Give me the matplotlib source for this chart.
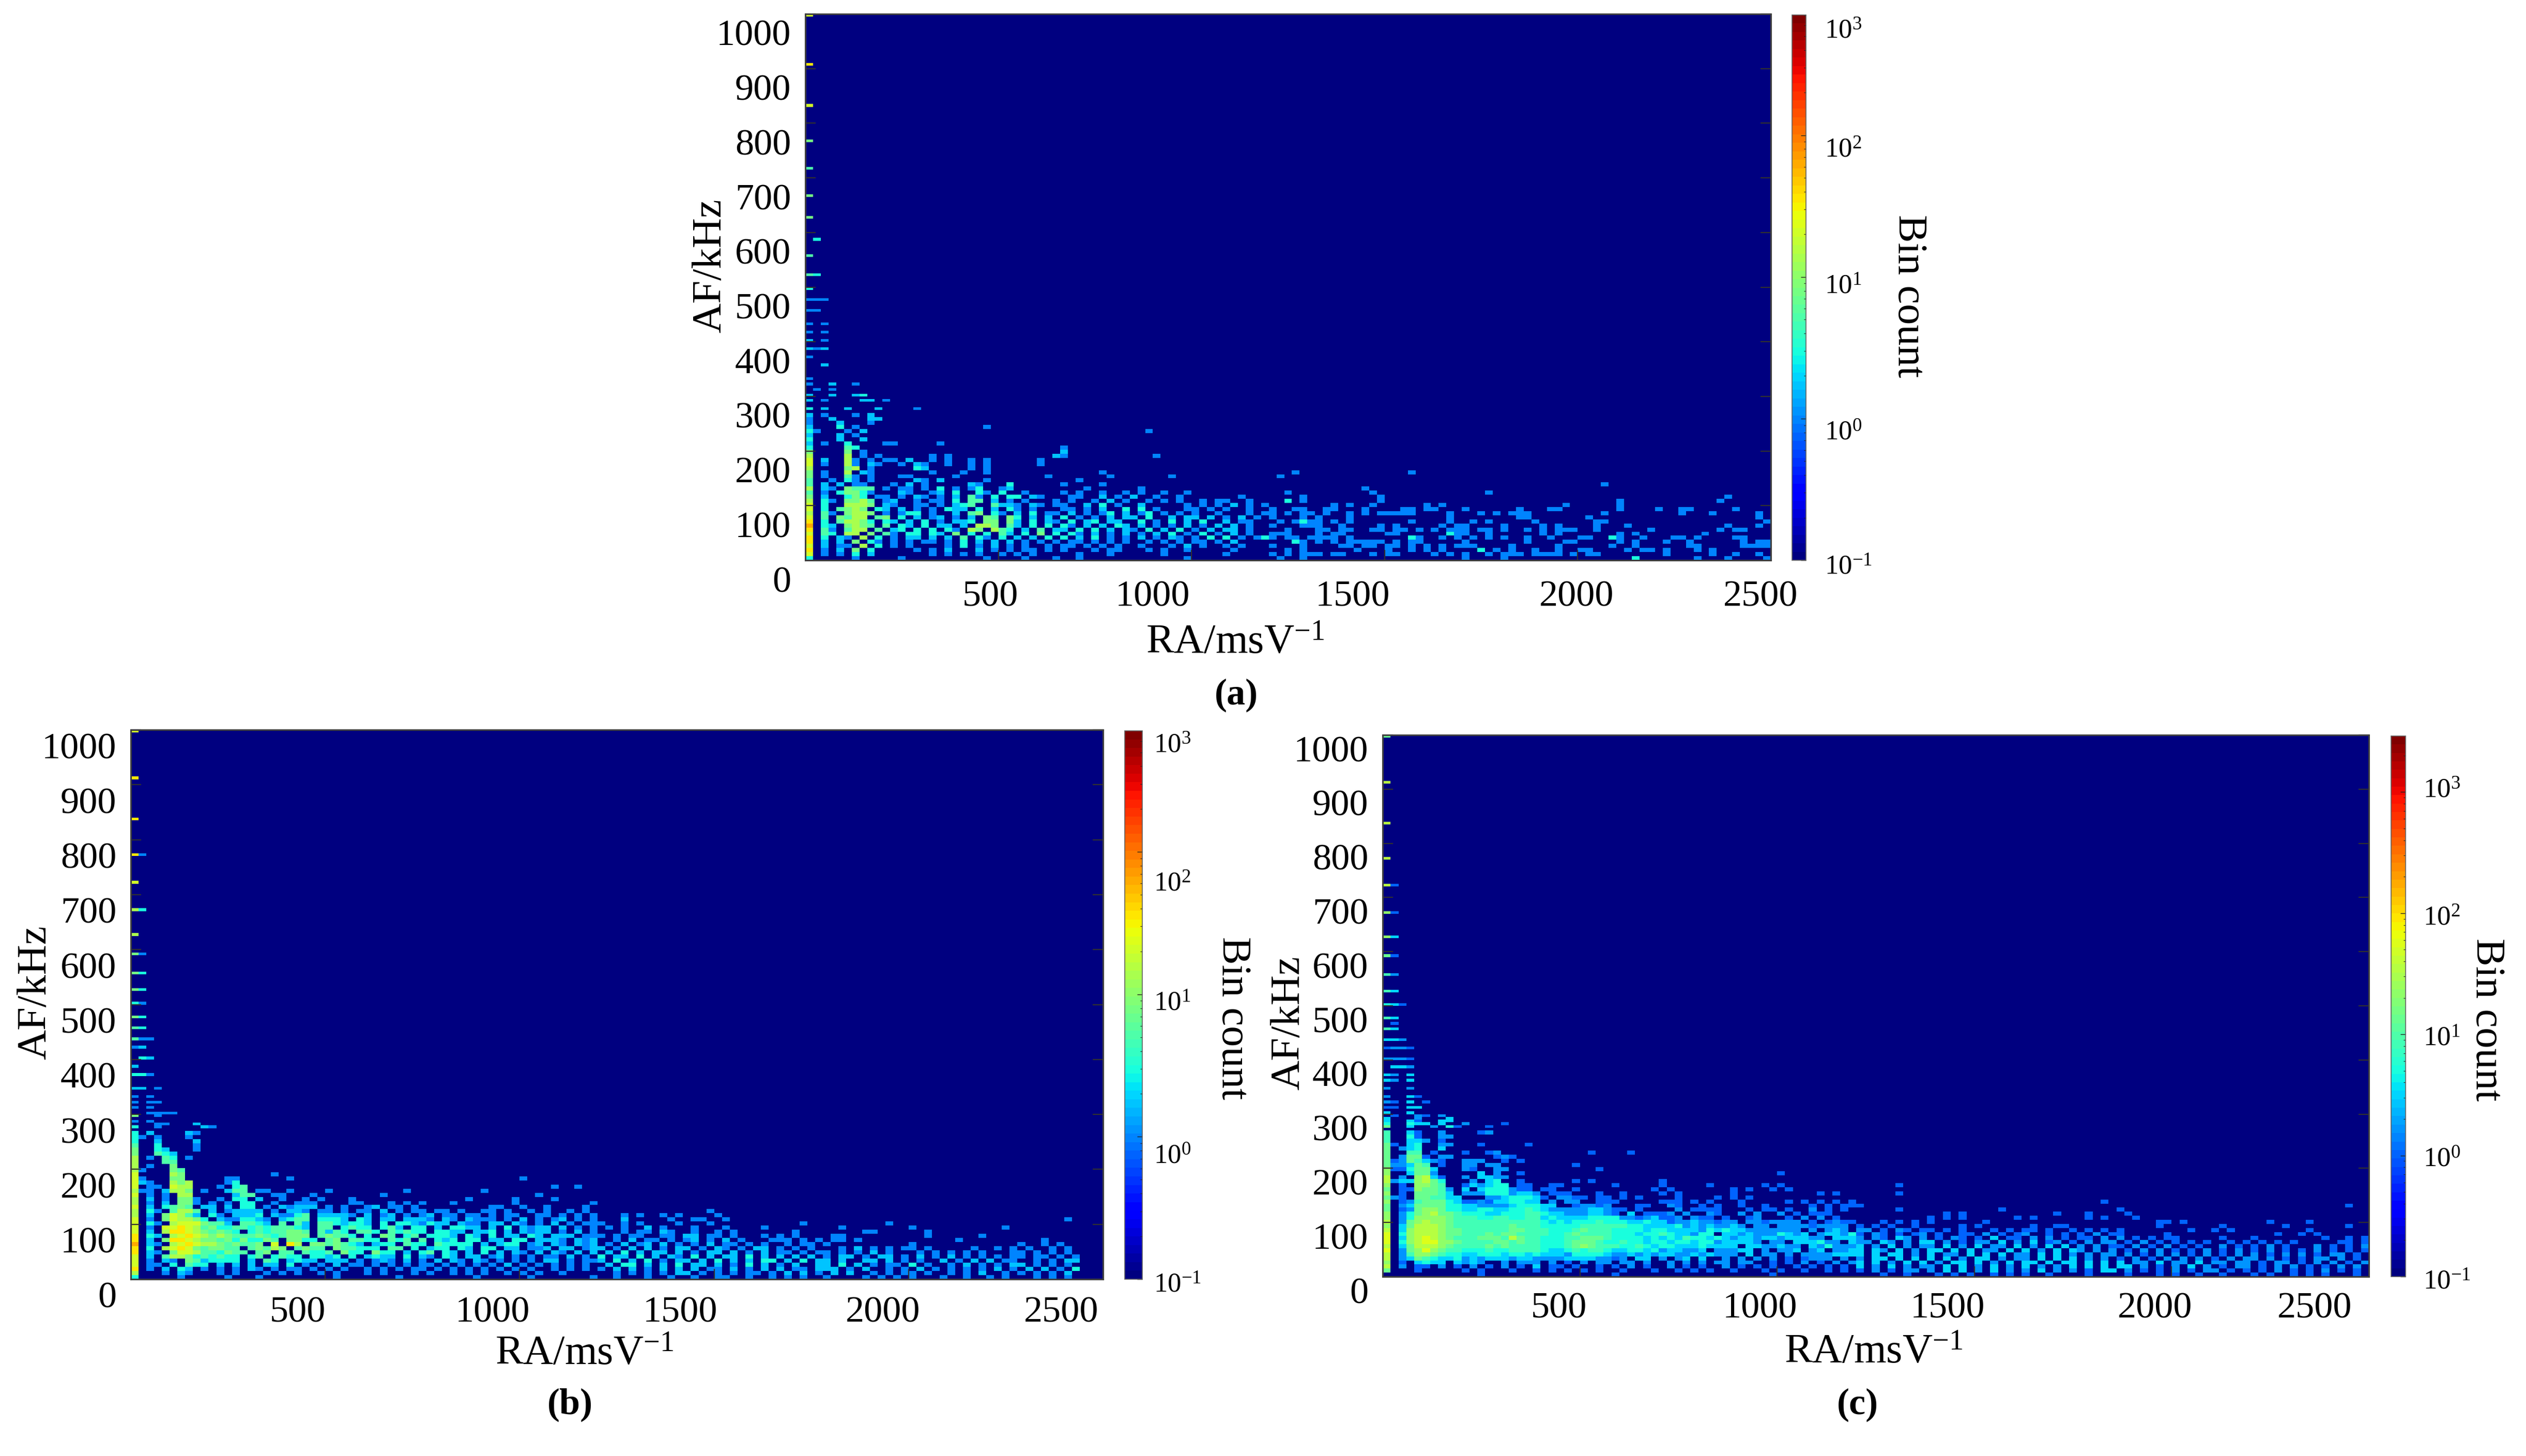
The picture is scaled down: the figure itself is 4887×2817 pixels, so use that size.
"""Bin count maps of AF against RA, panels (a), (b) and (c)."""
import numpy as np
import matplotlib
matplotlib.use("Agg")
import matplotlib.pyplot as plt
from matplotlib.colors import LogNorm
from matplotlib.transforms import ScaledTranslation

plt.rcParams["font.family"] = ["Liberation Serif", "DejaVu Serif"]
plt.rcParams["mathtext.fontset"] = "custom"
plt.rcParams["mathtext.rm"] = "Liberation Serif"
plt.rcParams["mathtext.it"] = "Liberation Serif"
plt.rcParams["mathtext.bf"] = "Liberation Serif:bold"

FIG_W, FIG_H = 4887, 2817

# one character per cell: '.' empty, otherwise index into COUNT_LEVELS
COUNT_LEVELS = [0.1, 1, 1.7, 3, 5, 8, 13, 20, 35, 60, 100]

RA_MAX = 2500
RA_BIN = 20       # columns
FAR_COL = 60      # FAR_* strings start at this column
AF_BIN_LOW = 7.5  # rows up to AF_SPLIT, written top to bottom
AF_SPLIT = 270
AF_BIN_HIGH = 5   # thin rows above AF_SPLIT

X_TICKS = [500, 1000, 1500, 2000, 2500]
Y_TICKS = list(range(0, 1001, 100))
CBAR_LABELS = ["$\\mathregular{10^{3}}$", "$\\mathregular{10^{2}}$", "$\\mathregular{10^{1}}$",
               "$\\mathregular{10^{0}}$", "$\\mathregular{10^{-1}}$"]

# (AF, cells from the first column) for the streaks above the dense part
HIGH_A = [(997, "7"), (908, "8"), (833, "7"), (769, "5"), (716, "4"), (668, "5"), (626, "5"),
          (588, ".3"), (557, "4"), (524, "43"), (496, "3"), (477, "111"), (455, "11"),
          (434, "1.1"), (418, "1.1"), (402, "2.1"), (386, "212"), (370, "1"), (359, "..2"),
          (332, "1"), (322, "1..2..1"), (311, ".1.1"), (301, "2..2..23"), (291, "2.1....22.1"),
          (279, "3.2..2...2....1")]
HIGH_B = [(1002, "7"), (912, "8"), (837, "8"), (773, "81"), (720, "7"), (671, "63"), (629, "6"),
          (591, "51"), (559, "53"), (527, "53"), (500, "31"), (479, "53"), (457, "43"),
          (435, "411"), (420, "12"), (404, ".32"), (387, "2"), (372, "331"), (345, "22.1"),
          (334, "1.1"), (324, "1.11"), (313, "1.1"), (302, "..1111"), (297, "5..1"),
          (286, "1.1"), (280, "...11...2"), (275, "3..1.....21")]
HIGH_C = [(1003, "6"), (913, "8"), (838, "8"), (774, "8"), (720, "81"), (672, "71"), (629, "73"),
          (591, "61"), (559, "52"), (527, "53"), (500, "431"), (479, "53"), (468, ".1"),
          (457, "53"), (436, "332"), (420, "1221"), (403, "2221"), (387, ".332"),
          (372, "32.3"), (361, "32.3"), (345, "2..2"), (334, "2..31"), (323, "21.3.1"),
          (313, "11.33"), (302, "3..3..."), (297, ".1..21.2"), (291, "3...2...3"),
          (286, "3..31..33"), (281, "4..433.3..2....1"), (275, "6..3..2.41...1")]

ROWS_A = [
    "2.1...1.2",
    "1..2....22",
    "1...2...1",
    "2...3.1................1",
    "31...1.2....................................1",
    "2...2.1",
    "3...2..2",
    "2.1..3....11.....1",
    "3....43..........................1",
    "5....5.1.........................2",
    "6....6.1.1......1.1.............21...........1",
    "7.2..61.1.11.2..1.1..1.1......1",
    "7.1..61.21..1.21..1..1.1......1",
    "6....56.1.....32.....1.1",
    "5.1..6.21.......1...1..1..............1",
    "5.1..41.1...11.....1...........1.......1.......1",
    "4..1.31.1.....21.2.....1...........1",
    "4.2.2.11...1.2.1.....21...3......1....1",
    "6.21.5444.1.11.1.3.1.13..12.........1......1",
    "4.1.35531...21..12.3..31.3..1....1.1..1..1.1..1..1",
    "5.2..353.11.1.21.1.2.41.3.33.21...11..2.1.2..1..1.......1",
    "6.31.5564.12..1.11.3.44.2.1.1...1.1..1.2.1..1.1.1..1.11..1",
    "7.3..6665.21..11.1.234..4221.21.11..2.3.1..2.....1.1.1.2.1.1",
    "7.3.4565.32.2.1.1.322.3.2.31.1...11.1.2..3.3.1...11.1.1..1.",
    "6.41.5665.1.133.1..2.45.31.2.3.11.2.1.13.2.13.1.1.1..1...1.1",
    "7.4.5466.45.3.2.12.1.2.54.53.2.2.3.1.1.2.22.3..2.22.2.1.2.1",
    "8.3.46653.32.2.3.1.223.55.52.3.21.3.23.22..3.1.3.2.3..2.11.",
    "9.32.5654.4.32.3.22.2.665.42.3.3.31.2.2.32.2.1.1.2.1.2.2.1.",
    "8.41.466.4.23.3.3.31.65.643.2.4.22.3.3.2.21.3.2.3.1.2.22.1.",
    "7.43.66.5.41.33.32.5.3.3.42.3.5.3.31.2.1.2.1.2.3.1.3.1.2.1.",
    "8.3.21.6.3.1.22.2.2.4.31.3.2.2.3.3.2.3.1.1.2.1.21.1.3.3.1.13",
    "8.2.2.5.31.1.1.11.1.3.2.2.2.1.1.1.11.1.1.1..1.1.1.11.1.2...",
    "7.2.11.6.3.1.1....1.3.1.2.1.1..1.11.1.1.1..1...1.2.1..1.1..",
    "8.1.2.5.3.....1.1.2...2.1.1.11.1.1...1.11...1.1..1.....1...",
    "7.1.1.3.2.......1.1.1.1..1.1.1.....1...1......1.......1",
    "3.....1.....1..........1....1...1..1.............1",
]

# panel (a) is sparse to the right, so its far cells are listed per row
SPOTS_A = {
    14: [63, 78], 15: [61], 17: [103], 18: [72], 19: [62, 73, 88], 20: [64, 74, 119],
    21: [62, 64, 74, 105, 118], 22: [68, 70, 73, 80, 82, 98, 105],
    23: [60, 63, 64, 67, 68, 72, 77, 78, 80, 81, 85, 92, 96, 97, 105, 110, 113, 114, 120],
    24: [60, 62, 64, 65, 67, 70, 72, 74, 75, 76, 77, 78, 83, 87, 89, 91, 92, 93, 103, 113, 117, 123],
    25: [60, 64, 66, 70, 83, 92, 93, 101, 123],
    26: [61, 63, 64, 65, 66, 68, 70, 78, 83, 86, 88, 94, 102, 103, 124],
    27: [60, 64, 65, 66, 69, 74, 76, 82, 84, 85, 90, 95, 97, 102, 106, 119, 123],
    28: [62, 66, 67, 69, 70, 73, 74, 76, 77, 79, 81, 83, 84, 85, 87, 88, 90, 93, 95, 97, 98, 99,
         102, 109, 118, 120, 121],
    29: [60, 61, 62, 66, 68, 69, 75, 76, 83, 84, 85, 88, 95, 97, 105, 107, 116],
    30: [60, 62, 63, 65, 66, 67, 68, 70, 78, 79, 82, 84, 86, 88, 90, 93, 96, 100, 101, 104, 105,
         108, 112, 113, 115, 120, 121],
    31: [63, 64, 66, 68, 70, 71, 72, 73, 74, 76, 78, 79, 85, 93, 98, 99, 105, 107, 111, 114, 121,
         123, 124],
    32: [60, 64, 69, 70, 72, 73, 75, 76, 78, 80, 82, 84, 85, 86, 91, 97, 104, 107, 114, 115, 121,
         122, 123, 124],
    33: [62, 64, 71, 75, 78, 80, 82, 87, 89, 91, 94, 97, 100, 101, 106, 108, 109, 111, 115, 117],
    34: [60, 62, 64, 65, 66, 68, 69, 73, 75, 76, 81, 83, 85, 88, 90, 91, 92, 94, 95, 96, 97, 99,
         101, 102, 111, 117, 120, 123],
    35: [61, 64, 85, 90, 107, 115, 119, 124],
}
SPOTS_A_BRIGHT = [(21, 62), (26, 64), (29, 83), (30, 78), (30, 104), (31, 63), (33, 87), (35, 107)]

ROWS_B = [
    "3.2....21",
    "31.1...1",
    "3..2....2",
    "4..3....1",
    "5..32...1",
    "5..432",
    "6.1.43.1",
    "6...44",
    "6.1..5",
    "61...54",
    "7....65...........1",
    "71...55.....11......1.............................1",
    "721..656....13",
    "7.11.766...1.34.......................................1..1",
    "611.2665.1..244.11..1....1.........1.........1",
    "7.1.1.66.....244..11...1........1...................1",
    "6.2.1.551..1.33.2..1..1.1...1..............1.....1....1",
    "6.1.2.551.1.1.33..1..111....11...1.1.1...1.......1.........1",
    "7.2.3454.22.2.33.1.21222.1.1..12.11.1.........11..1..1....1.",
    "6.31.4664.2.12222.1.221.11.1.11.2.1.11.11.1..11.1..1.1..1.1.",
    "6.2.57642.31.2223.21134.22221.2.12.1.12.11.11.1.11..11.1.1.1",
    "7.1.576653.2113321.2344.3332.32.22.2221.21.2111.1.2.1.12.1.1",
    "7.31.67775442.4432.4.42.4432332.3.3321322.211.22.21.1.2.1.11",
    "7.1.7787645334434344432.44.3433.342.33.2.3322.2.3.2122.2.1.1",
    "7.2.6887654543.34344554.4243.443.43433.3322.223.2.2122.1.2.1",
    "8.32.678765654445434555.45443.3.54.34.3332.32.3.22.32.222.11",
    "8.2.588765545353354.5533.45.4433.434.4.323.33.22.33.2221.212",
    "9.21.678766545445.7.86.5545432.233.433.43333.2.233.12.21.212",
    "8.3.6787545544.45465.4544.544333.44.3.233.32.33.22.112.22.12",
    "8.21.5776443544.45.44.4334.533.533.2.34.32.2.3.2.21.2.21.2.2",
    "7.2.4665343433.34.3433.3323.3.2322.3.21.32.22.12.1.1.11.2.1.",
    "7.1.21.5423333.2.43.2322.222.1.121.2.1.2.21.21.1.1.1.22.1.11",
    "7.11.3.433.2.2.2.22.3.1.1.2.11.1.1.1.11.1.1.1.1.2.1.1.1.1.1.",
    "8.1.2.32.1.1.1.21.1.11.1.1.1..1.1.1.11.1.1.1.1.1.1.1..1.1.1.",
    "6...1.21...1.1...1.1.1..1.1...1.1...1.1..1.1.1..1.1.1..1....",
    "3.....1.....1...1.........1.......1.........1......1.......1",
]
FAR_B = {
    19: "..............1",
    20: "...1.1..1.1....1",
    21: "...2.....1..11..1...........................................1",
    22: "1..1.1....1...1...........1..........1",
    23: ".1.1..2.1...1...1....1.........1........1...........1",
    24: "...1.11.21..1..1.1.......1........11......1",
    25: "1.1.11..11.22.11.1...1.1.1....11..........1......1",
    26: "..1.2.11.1.12.1.2.1...111.1.1.11.1............1..........1",
    27: ".1.2.12.2.1.1.2.11.1.1..1.11.1..........1.............1..1.1.",
    28: "2.1.2.2.1.22.1.21.1.22.1.1.1...1.2.1.1.11.1.....1..1.1.1..1.1",
    29: ".2.3.2.22.2.1.22.2.1.2.11.1.11.1.1.2.1...1.1.1.1.1...11.1.1.1",
    30: "3.22.3.2.21.3.2.22.3.2.2.2.2.1.22.1.22.1.2.1.2.1.1.1.11.11.1.1",
    31: "2.3.2.3.1.22.2.3.2.2.33.2.3.22.2..22.2.1.1..2.1.2.2.11..1.1.22",
    32: ".2.33.2.2.3.22.2.1.3.2.1.2..22.3.2.1.11.3.1..1.2.1.1.22.1.1.1",
    33: "1.2.2.1.2.2.2.11.2.1.2.2.11.222.1.2..1.1.2.1.1.1.1.2.1.2.2.1.3",
    34: "..1.1.1.1.22.1.1.1.11.1.2.2.1.2.2..1.1.11.1..1.1.2..1.1.1.1.2",
    35: "..1...1..1..1..11..1..1.1.1..1....1.1.1.1...1..1..1.1...1.1.1",
}

ROWS_C = [
    "5..31..2....12",
    "5..41..22",
    "5..332.1",
    "61.34..22...1.....1",
    "6.234..3",
    "6..55.1...1..12...........1....1",
    "6.2661.22.....121",
    "61265321..222..1.1",
    "622365.1..22.22.........1",
    "7114663...21..22...........1",
    "7..3662.....3.2..1................................1",
    "8.2.7831..2.3322",
    "82337864...2.34..1......1.1........1",
    "7.1.7765..132344.11..11......1.....1.....1......1.1",
    "6.1176652.3.3444211.11..1.........1.1.......1.1..1.1",
    "7.1.66653.2224442332.111...1..1....1.1......1..........1.1.",
    "621.665533...22344431.2211.11.1.1....1....1.1.1",
    "7.125666431121334433.2.22..111.....111.1.1...1.....1.1.1.1.1",
    "6.23666644332222344433..12212...11..21..1.1..1..1.....1.1.11",
    "6.12677644334433445432222233211.1....2.1111...1.11.1..2.1.1.",
    "7.2467866544433444554332223321.3.1112.2..21..2.2..2.1.111...",
    "7.247777655544554455343333444422123112.211.1..12...1.2.2.1..",
    "8.2678776555555555554343444544433433122322122.2212222.1.1211",
    "7.36888765555555655544444555555443333423232232.22.222212222.",
    "8.378887665555556655544456555444434433332434332222222.2.232.",
    "9.4788876655565665555445655554443445433244.33232224323.23324",
    "9.378987655566658655444556665444434343544343233233233322.333",
    "9.4789977655556656554445666544544344344344233332.22.333422.3",
    "8.3688876555565655554445676555445434433343333.3322322.324222",
    "9.267976554445445555433454554334434233223.22233.2.223.23.223",
    "8.2577654433444344343332444432232323322323222.3.22.2.2222333",
    "8.23654334232333233222233332212.33.2.23.3..2.2.2.2.1.1222.2.",
    "7.1.3433.3232..2.222.2.1.2.22.22.2..2.2.2.22.22..1.1.2.1.2.2",
    "8.2.11.2.1.2.1.2.1.3.11.1..1.1.2.1..2.1.1..2.1.1.1..1.1.1.1.",
    "6...1.....1.1...1..1.1.1.1.1..1...1..1.1.1..1...1.1..1..1.1.",
    "............1................1...................1..........1",
]
FAR_C = {
    13: ".....1",
    15: ".....1",
    17: "...............................1",
    18: "1.............................................................1",
    19: ".....1............1..............1",
    20: "...........1.1...........1...1....1",
    21: ".........1.1.1......1.1......1.1...1",
    22: "...1.1.1.1......1.....................11.1..........1....1",
    23: "1.1.1..1.....1.1......1..11...........1.......1.......1.......1",
    24: "22.1.21.11.1.1...1.1.11.1..1.1.1.1........1..1.1.........1",
    25: "1.21.1.12.1..11.2.1.12..1.1.1.2.11.....1.............1..1.1",
    26: "2.21.32.2.1.21.1.3.11.2.2.1.11.2.2.1.1.11.....1...1........1..1.1",
    27: "22.32.2.33.2.1.22.3.2.3.12.1.2.22.1.2.1.1.1.1..1.1.1.1.1.....11.1",
    28: "3.2.3.2.22.3.2.3.22.3.2.3.3.2.2.11.2.1.2.1.1..2.1.1.2.1...2.1.1.2",
    29: "3.32.3.2.33.3.3.22.3.3.2.3.32.2.2.1.2.2.1.1.2.1.2.1.2.1.1.2.1.1.1",
    30: "3.3.33.2.3.22.3.3.3.22.3.3.2.2.22.2.1.2.2.1.2.1.2.2.1.2.2.1.22.1.",
    31: "2.33.3.3.3.3.2.33.2.22.3.3.3.2.2.1.2.1.2.2.2.1.2.22.2.1.1.22.2.1.",
    32: "3.3.2.3.3.2.33.3.2.3.33.3.33.3.3.3.22.3.22.3.22.22.1.22.1.2.2.1.2",
    33: "3.2.3.2.22.3.3.2.3.2.3.2.2.3.3.3.33.2.1.2.3.2.1.22.1.2.2.1.1.2.2.",
    34: "1.2.1.22.2.3.3.2.3.2.2.3.2.2.1.33.2.1.1.2.1.22.1.1.1.2.1.1.2.1.1.",
    35: "...1..1...1.1.1..1.1.1..1....1....1...1.1..1..1...1.1..1.1.1...1.",
}

VMAX_A = 708
VMAX_B = 708
VMAX_C = 2900


def px_box(x0, y0, x1, y1):
    """Figure fractions of a box given in image pixels."""
    return [x0 / FIG_W, 1 - y1 / FIG_H, (x1 - x0) / FIG_W, (y1 - y0) / FIG_H]


def px_text(x, y, s, **kw):
    return fig.text(x / FIG_W, 1 - y / FIG_H, s, **kw)


def build_cells(rows, high, far=None, spots=None, bright=None):
    low_edges = np.arange(0, AF_SPLIT + AF_BIN_LOW, AF_BIN_LOW)
    high_edges = np.arange(AF_SPLIT, 1000 + AF_BIN_HIGH, AF_BIN_HIGH)
    y_edges = np.concatenate([low_edges, high_edges[1:]])
    n_cols = RA_MAX // RA_BIN
    x_edges = np.arange(n_cols + 1) * RA_BIN
    cells = np.full((len(y_edges) - 1, n_cols), COUNT_LEVELS[0])
    n_low = len(low_edges) - 1
    for t, row in enumerate(rows):
        for c, ch in enumerate(row[:FAR_COL]):
            if ch != ".":
                cells[n_low - 1 - t, c] = COUNT_LEVELS[int(ch, 16)]
    for t, row in (far or {}).items():
        for c, ch in enumerate(row[:n_cols - FAR_COL]):
            if ch != ".":
                cells[n_low - 1 - t, FAR_COL + c] = COUNT_LEVELS[int(ch, 16)]
    for t, cols in (spots or {}).items():
        for c in cols:
            cells[n_low - 1 - t, c] = COUNT_LEVELS[1]
    for t, c in bright or []:
        cells[n_low - 1 - t, c] = COUNT_LEVELS[3]
    for af, row in high:
        r = min(n_low + int((af - AF_SPLIT) // AF_BIN_HIGH), cells.shape[0] - 1)
        for c, ch in enumerate(row):
            if ch != ".":
                cells[r, c] = COUNT_LEVELS[int(ch, 16)]
    return x_edges, y_edges, cells


def draw_panel(box, cbar_box, cells_in, vmax, y_shift, x_label_pad, x_shifts):
    ax = fig.add_axes(px_box(*box))
    x_edges, y_edges, cells = cells_in
    norm = LogNorm(vmin=0.1, vmax=vmax)
    cmap = plt.get_cmap("jet", 64)
    mesh = ax.pcolormesh(x_edges, y_edges, cells, cmap=cmap, norm=norm, shading="flat", linewidth=0)
    ax.set_xlim(0, RA_MAX)
    ax.set_ylim(0, 1000)

    ax.set_xticks(X_TICKS)
    ax.set_yticks(Y_TICKS)
    ax.tick_params(axis="both", direction="in", length=14.5, width=1.6, color="#303030", labelsize=52)
    ax.tick_params(axis="y", left=True, right=True, pad=20)
    ax.tick_params(axis="x", bottom=True, top=False, pad=x_label_pad * 0.72)
    for spine in ax.spines.values():
        spine.set_linewidth(2.2)
        spine.set_color("#404040")

    # the tick labels sit away from their ticks in the source figure
    for lab, dx in zip(ax.get_xticklabels(), x_shifts):
        lab.set_verticalalignment("center")
        lab.set_transform(lab.get_transform() + ScaledTranslation(dx / 100, 0, fig.dpi_scale_trans))
    for lab in ax.get_yticklabels():
        lab.set_transform(lab.get_transform() + ScaledTranslation(0, -y_shift / 100, fig.dpi_scale_trans))

    cax = fig.add_axes(px_box(*cbar_box))
    cb = fig.colorbar(mesh, cax=cax)
    cb.outline.set_linewidth(1.2)
    cb.outline.set_edgecolor("#606060")
    cax.tick_params(which="major", direction="in", length=7, width=1, color="#202020", right=True, labelright=False)
    cax.tick_params(which="minor", direction="in", length=3, width=0.8, color="#202020", right=True, labelright=False)
    return ax


fig = plt.figure(figsize=(FIG_W / 100, FIG_H / 100), dpi=100, facecolor="white")

draw_panel((1558, 27, 3426, 1084), (3467, 29, 3494, 1084),
           build_cells(ROWS_A, HIGH_A, spots=SPOTS_A, bright=SPOTS_A_BRIGHT), VMAX_A, 36, 71,
           [-16, -75, -62, -2, -20])
draw_panel((253, 1412, 2134, 2475), (2176, 1414, 2210, 2475),
           build_cells(ROWS_B, HIGH_B, far=FAR_B), VMAX_B, 30, 65,
           [-53, -53, -66, -50, -81])
draw_panel((2675, 1422, 4583, 2470), (4626, 1424, 4654, 2470),
           build_cells(ROWS_C, HIGH_C, far=FAR_C), VMAX_C, 26, 62,
           [-41, -33, -52, -32, -105])

RA_TITLE = "RA/msV$^{-1}$"
LABEL_SIZE = 58
TAG_SIZE = 52
center = dict(ha="center", va="center")

px_text(2390, 1245, RA_TITLE, fontsize=LABEL_SIZE, **center)
px_text(1131, 2621, RA_TITLE, fontsize=LABEL_SIZE, **center)
px_text(3625, 2618, RA_TITLE, fontsize=LABEL_SIZE, **center)

px_text(1375, 514, "AF/kHz", fontsize=LABEL_SIZE, rotation=90, **center)
px_text(69, 1920, "AF/kHz", fontsize=LABEL_SIZE, rotation=90, **center)
px_text(2494, 1979, "AF/kHz", fontsize=LABEL_SIZE, rotation=90, **center)

px_text(3693, 573, "Bin count", fontsize=LABEL_SIZE, rotation=270, **center)
px_text(2384, 1970, "Bin count", fontsize=LABEL_SIZE, rotation=270, **center)
px_text(4810, 1973, "Bin count", fontsize=LABEL_SIZE, rotation=270, **center)

px_text(2392, 1345, "(a)", fontsize=TAG_SIZE, fontweight="bold", **center)
px_text(1103, 2718, "(b)", fontsize=TAG_SIZE, fontweight="bold", **center)
px_text(3594, 2718, "(c)", fontsize=TAG_SIZE, fontweight="bold", **center)

for s, y in zip(CBAR_LABELS, [61, 291, 555, 838, 1098]):
    px_text(3530, y, s, fontsize=38, ha="left", va="center")
for s, y in zip(CBAR_LABELS, [1443, 1711, 1942, 2238, 2487]):
    px_text(2232, y, s, fontsize=38, ha="left", va="center")
for s, y in zip(CBAR_LABELS, [1530, 1777, 2010, 2244, 2481]):
    px_text(4688, y, s, fontsize=38, ha="left", va="center")

fig.savefig("out.png", dpi=100)
